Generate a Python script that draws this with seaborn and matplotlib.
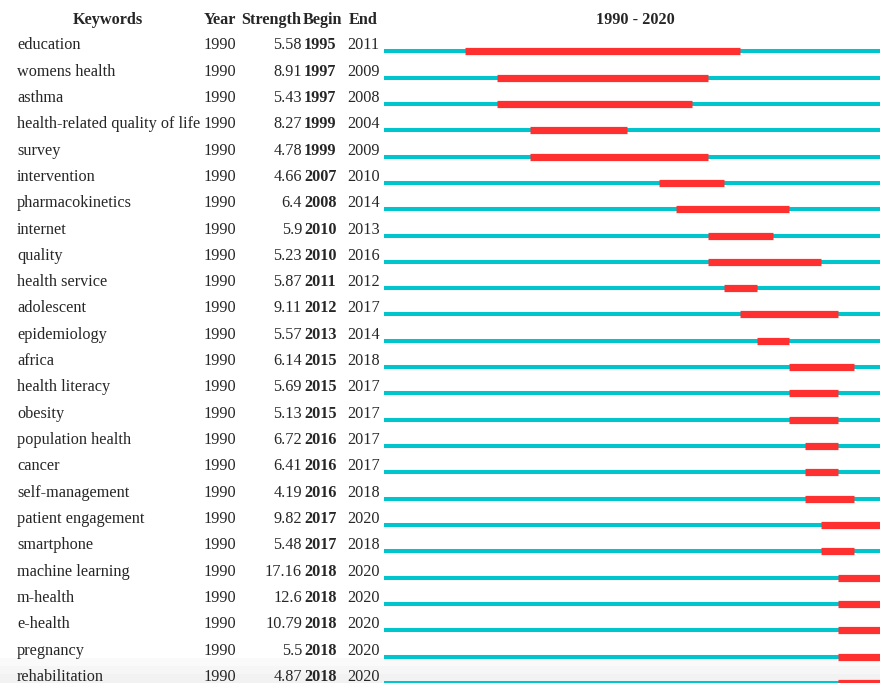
import matplotlib
matplotlib.use("Agg")
import matplotlib.pyplot as plt
import matplotlib.transforms as mtransforms
from matplotlib.patches import Rectangle
import seaborn as sns

# Burst detection table (CiteSpace style)
keywords = ["education", "womens health", "asthma", "health-related quality of life",
            "survey", "intervention", "pharmacokinetics", "internet", "quality",
            "health service", "adolescent", "epidemiology", "africa", "health literacy",
            "obesity", "population health", "cancer", "self-management",
            "patient engagement", "smartphone", "machine learning", "m-health",
            "e-health", "pregnancy", "rehabilitation"]
year = [1990] * 25
strength = ["5.58", "8.91", "5.43", "8.27", "4.78", "4.66", "6.4", "5.9", "5.23",
            "5.87", "9.11", "5.57", "6.14", "5.69", "5.13", "6.72", "6.41", "4.19",
            "9.82", "5.48", "17.16", "12.6", "10.79", "5.5", "4.87"]
begin = [1995, 1997, 1997, 1999, 1999, 2007, 2008, 2010, 2010, 2011, 2012, 2013,
         2015, 2015, 2015, 2016, 2016, 2016, 2017, 2017, 2018, 2018, 2018, 2018, 2018]
end = [2011, 2009, 2008, 2004, 2009, 2010, 2014, 2013, 2016, 2012, 2017, 2014,
       2018, 2017, 2017, 2017, 2017, 2018, 2020, 2018, 2020, 2020, 2020, 2020, 2020]
first_year, last_year = 1990, 2020

sns.set_style("white")
plt.rcParams["font.family"] = ["Liberation Serif", "DejaVu Serif"]

W, H = 880, 683
fig = plt.figure(figsize=(W / 100, H / 100), dpi=100)
ax = fig.add_axes([0, 0, 1, 1])
ax.patch.set_alpha(0)

# pixel geometry -> data limits
px_per_year = 16.2
x0_px = 384
ax.set_xlim(first_year - x0_px / px_per_year, first_year + (W - x0_px) / px_per_year)
row_h, row0_px = 26.32, 51.3
ax.set_ylim((H - row0_px) / row_h, -row0_px / row_h)
ax.axis("off")

# faint grey band at the bottom (screenshot artefact)
for k, c in enumerate(["#fafafa", "#f6f6f6", "#f2f2f2"]):
    top = 658 + k * 8
    fig.patches.append(Rectangle((0, 0), 1, (H - top) / H, transform=fig.transFigure,
                                 facecolor=c, edgecolor="none", zorder=-1))

n = len(keywords)
rows = list(range(n))
ax.hlines(rows, first_year, last_year + 1, color="#00C5CD", lw=2.9,
          capstyle="butt", zorder=2)
ax.hlines(rows, begin, [e + 1 for e in end], color="#FF3030", lw=5.2,
          capstyle="butt", zorder=3)

fs = 11.7
trans = mtransforms.blended_transform_factory(fig.transFigure, ax.transData)
def fx(px):
    return px / W

for i in rows:
    yt = i - 6 / row_h
    ax.text(fx(17), yt, keywords[i], transform=trans, fontsize=fs, va="center", ha="left")
    ax.text(fx(204), yt, str(year[i]), transform=trans, fontsize=fs, va="center", ha="left")
    ax.text(fx(302), yt, strength[i], transform=trans, fontsize=fs, va="center", ha="right")
    ax.text(fx(304), yt, str(begin[i]), transform=trans, fontsize=fs, va="center",
            ha="left", fontweight="bold")
    ax.text(fx(347), yt, str(end[i]), transform=trans, fontsize=fs, va="center", ha="left")

hy = 1 - 20.5 / H
fig.text(fx(108), hy, "Keywords", fontsize=fs, fontweight="bold", ha="center", va="center")
fig.text(fx(204), hy, "Year", fontsize=fs, fontweight="bold", ha="left", va="center")
fig.text(fx(241), hy, "Strength", fontsize=fs, fontweight="bold", ha="left", va="center")
fig.text(fx(303), hy, "Begin", fontsize=fs, fontweight="bold", ha="left", va="center")
fig.text(fx(349), hy, "End", fontsize=fs, fontweight="bold", ha="left", va="center")
fig.text(fx(635), hy, f"{first_year} - {last_year}", fontsize=fs, fontweight="bold",
         ha="center", va="center")

fig.savefig("out.png", dpi=100)
